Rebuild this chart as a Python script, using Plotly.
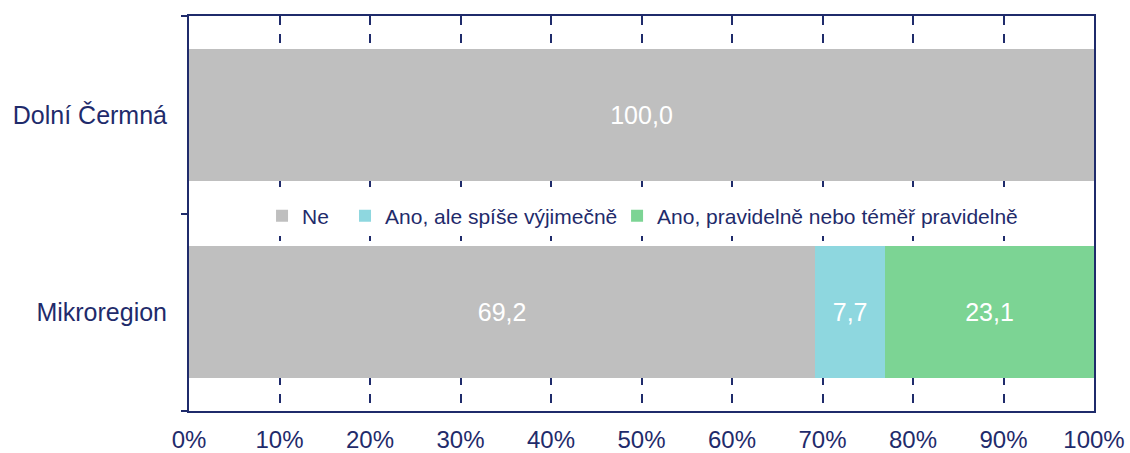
import plotly.graph_objects as go

categories = ["Mikroregion", "Dolní Čermná"]
series_names = ["Ne", "Ano, ale spíše výjimečně", "Ano, pravidelně nebo téměř pravidelně"]
values_ne = [69.2, 100.0]
values_vyjimecne = [7.7, 0.0]
values_pravidelne = [23.1, 0.0]
colors = ["#BFBFBF", "#8ED7DF", "#7CD494"]
x_tick_vals = [0, 10, 20, 30, 40, 50, 60, 70, 80, 90, 100]
x_tick_text = [f"{v}%" for v in x_tick_vals]

navy = "#1F2B6B"
font_family = "Liberation Sans, Arial, sans-serif"
legend_ids = ["legend", "legend2", "legend3"]
legend_x = [0.0807, 0.1724, 0.4730]

fig = go.Figure()
for name, vals, col, lid in zip(series_names, [values_ne, values_vyjimecne, values_pravidelne], colors, legend_ids):
    fig.add_trace(go.Bar(
        y=categories, x=vals, name=name, orientation="h",
        marker=dict(color=col, line=dict(width=0)),
        text=[(f"{v:.1f}".replace(".", ",") if v > 0 else "") for v in vals],
        textposition="inside", insidetextanchor="middle",
        textfont=dict(color="white", size=25, family=font_family),
        hoverinfo="skip", legend=lid,
    ))

legend_style = dict(
    orientation="h", y=0.4937, xanchor="left", yanchor="middle",
    font=dict(size=21, color=navy, family=font_family),
    bgcolor="white", itemwidth=30, itemclick=False,
)

fig.update_layout(
    barmode="stack",
    bargap=0.33,
    width=1130, height=453,
    margin=dict(l=189, r=36, t=16, b=42),
    plot_bgcolor="white", paper_bgcolor="white",
    font=dict(family=font_family, color=navy, size=24),
    showlegend=True,
    legend=dict(x=legend_x[0], **legend_style),
    legend2=dict(x=legend_x[1], **legend_style),
    legend3=dict(x=legend_x[2], **legend_style),
    uniformtext=dict(minsize=10, mode="show"),
)

fig.update_xaxes(
    range=[0, 100], tickvals=x_tick_vals, ticktext=x_tick_text,
    showgrid=True, gridcolor=navy, gridwidth=2, griddash="dash",
    showline=True, linecolor=navy, linewidth=2, mirror=True,
    ticks="", zeroline=False, automargin=False,
    tickfont=dict(size=24, color=navy), ticklabelstandoff=6,
)
fig.update_yaxes(
    categoryorder="array", categoryarray=categories,
    range=[-0.5, 1.5], automargin=False,
    showgrid=False, showline=True, linecolor=navy, linewidth=2, mirror=True,
    ticks="outside", tickson="boundaries", ticklen=6, tickwidth=2, tickcolor=navy,
    tickfont=dict(size=25, color=navy), ticklabelstandoff=15,
)

fig.write_html("out.html", config={"displayModeBar": False},
               post_script="document.body.style.margin='0';")
